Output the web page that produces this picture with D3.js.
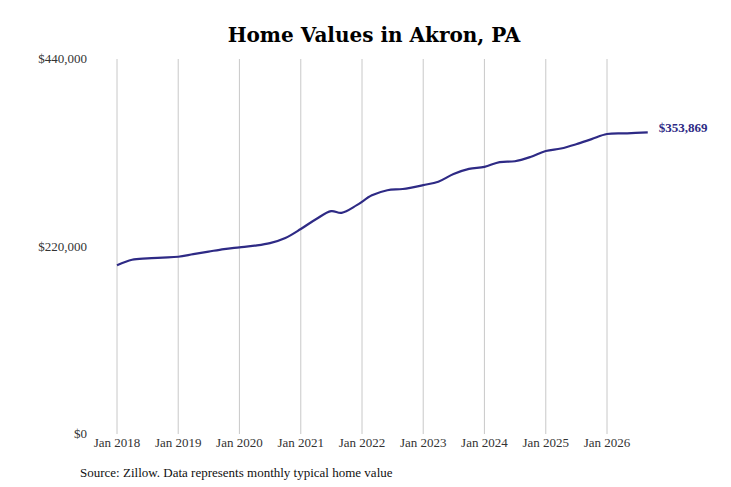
<!DOCTYPE html>
<html><head><meta charset="utf-8">
<script src="https://cdn.jsdelivr.net/npm/d3@7"></script>
<style>body{margin:0;background:#fff}</style></head>
<body><svg id="c" width="731" height="487"></svg>
<script>
const dates = ["2018-01","2018-04","2018-07","2018-10","2019-01","2019-04","2019-07","2019-10","2020-01","2020-04","2020-07","2020-10","2021-01","2021-04","2021-07","2021-09","2021-12","2022-03","2022-06","2022-09","2023-01","2023-04","2023-07","2023-10","2024-01","2024-04","2024-07","2024-10","2025-01","2025-04","2025-07","2025-10","2026-01","2026-05","2026-09"];
const values = [198000,204500,206000,207000,208000,211000,214000,217000,219000,221000,224000,230000,240500,252000,261500,259500,268500,280000,286000,287500,292000,296000,305000,311000,313500,319000,320000,325000,332000,335000,340000,346000,352000,352800,353869];
const yTicks = [0,220000,440000];
const xTickYears = [2018,2019,2020,2021,2022,2023,2024,2025,2026];
const endLabel = "$353,869";

const svg = d3.select("#c");
const p = d3.timeParse("%Y-%m");
const data = dates.map((d,i)=>({d:p(d),v:values[i]}));
const x = d3.scaleTime().domain([new Date(2018,0,1),new Date(2026,0,1)]).range([117,607]);
const y = d3.scaleLinear().domain([0,440000]).range([434,59]);
const font = "Liberation Serif, serif";

svg.append("text").attr("x",374).attr("y",42).attr("text-anchor","middle")
  .attr("font-family","DejaVu Serif, serif").attr("font-weight","bold").attr("font-size",20).text("Home Values in Akron, PA");

xTickYears.forEach(yr=>{
  const xx = x(new Date(yr,0,1));
  svg.append("line").attr("x1",xx).attr("x2",xx).attr("y1",59).attr("y2",434).attr("stroke","#c8c8c8").attr("stroke-width",1);
  svg.append("text").attr("x",xx).attr("y",447).attr("text-anchor","middle").attr("font-family",font)
    .attr("font-size",13).attr("fill","#333").text("Jan "+yr);
});
yTicks.forEach(t=>{
  svg.append("text").attr("x",87).attr("y",y(t)+4).attr("text-anchor","end").attr("font-family",font)
    .attr("font-size",13).attr("fill","#333").text("$"+d3.format(",")(t));
});
svg.append("path").datum(data).attr("fill","none").attr("stroke","#2e2a85").attr("stroke-width",2.2)
  .attr("d",d3.line().x(d=>x(d.d)).y(d=>y(d.v)).curve(d3.curveCatmullRom));
const last = data[data.length-1];
svg.append("text").attr("x",x(last.d)+11).attr("y",y(last.v)+0).attr("font-family",font).attr("font-weight","bold")
  .attr("font-size",13).attr("fill","#2e2a85").text(endLabel);
svg.append("text").attr("x",80).attr("y",477).attr("font-family",font).attr("font-size",13).attr("fill","#111")
  .text("Source: Zillow. Data represents monthly typical home value");
</script></body></html>
